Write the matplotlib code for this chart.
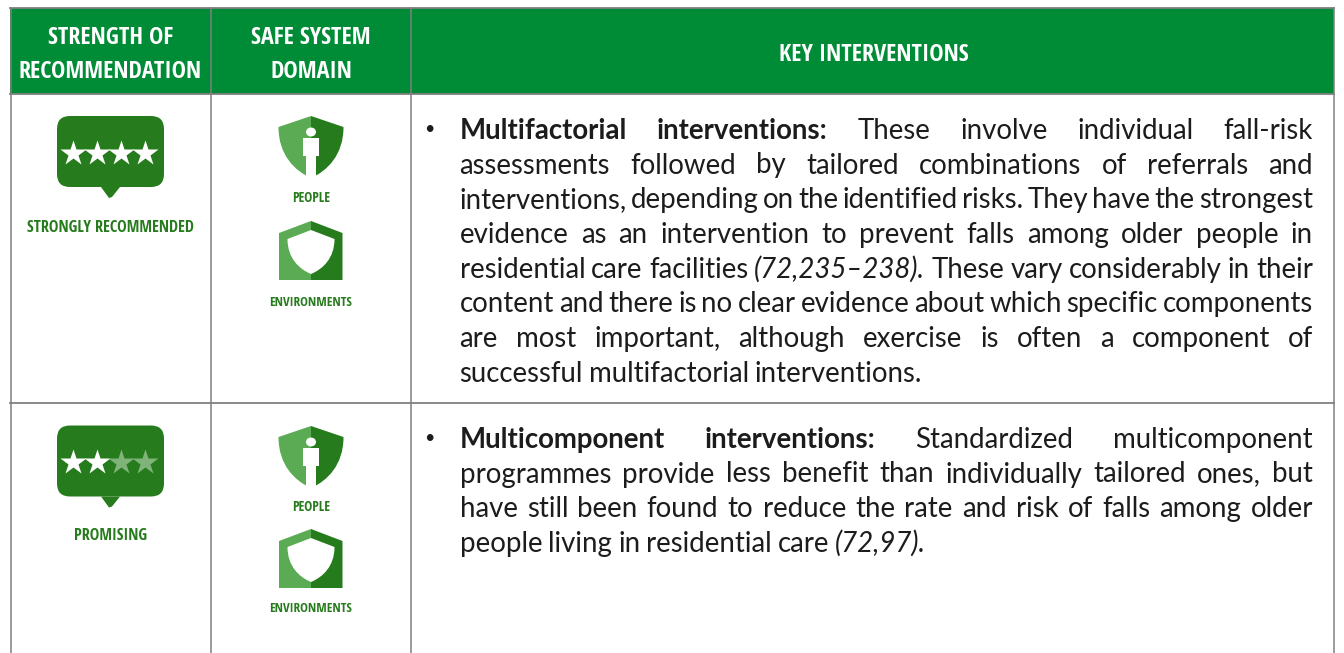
import matplotlib
matplotlib.use('Agg')
from matplotlib import pyplot as plt
from matplotlib.path import Path
from matplotlib.patches import Polygon, Rectangle, Ellipse, FancyBboxPatch, PathPatch

GREEN = '#008c36'
DARK = '#267b1c'
LIGHT = '#5aab54'
GRID = '#808080'
HEAD_FONT = ['Open Sans Condensed', 'Roboto Condensed']
BODY_FONT = ['Lato', 'DejaVu Sans']

headers = [('STRENGTH OF\nRECOMMENDATION', 110.5), ('SAFE SYSTEM\nDOMAIN', 311), ('KEY INTERVENTIONS', 873.5)]
ratings = [('STRONGLY RECOMMENDED', 4), ('PROMISING', 2)]
domains = ['PEOPLE', 'ENVIRONMENTS']

body_1 = [
    [('b', 'Multifactorial interventions:'), ('r', 'These involve individual fall-risk')],
    [('r', 'assessments followed by tailored combinations of referrals and')],
    [('r', 'interventions, depending on the identified risks. They have the strongest')],
    [('r', 'evidence as an intervention to prevent falls among older people in')],
    [('r', 'residential care facilities'), ('i', '(72,235–238).'), ('r', 'These vary considerably in their')],
    [('r', 'content and there is no clear evidence about which specific components')],
    [('r', 'are most important, although exercise is often a component of')],
    [('r', 'successful multifactorial interventions.')],
]
body_2 = [
    [('b', 'Multicomponent interventions:'), ('r', 'Standardized multicomponent')],
    [('r', 'programmes provide less benefit than individually tailored ones, but')],
    [('r', 'have still been found to reduce the rate and risk of falls among older')],
    [('r', 'people living in residential care'), ('i', '(72,97).')],
]

fig = plt.figure(figsize=(13.44, 6.53), dpi=100)
ax = fig.add_axes([0, 0, 1, 1])
ax.set_xlim(0, 1344)
ax.set_ylim(653, 0)
ax.axis('off')

# table frame
ax.add_patch(Rectangle((10, 8), 1324, 86, fc=GREEN, ec='none'))
for x in [10.5, 211, 411, 1334]:
    ax.plot([x, x], [8, 653], color=GRID, lw=1.1)
for y in [8, 94, 403]:
    ax.plot([10, 1334], [y, y], color=GRID, lw=1.3)

for label, x in headers:
    ax.text(x, 55, label, color='white', ha='center', va='center', family=HEAD_FONT,
            weight='bold', fontsize=17.4, linespacing=1.5)


def bubble(y0, n_on):
    ax.add_patch(FancyBboxPatch((57 + 13, y0 + 13), 107 - 26, 71 - 26,
                                boxstyle='round,pad=13,rounding_size=13', fc=DARK, ec='none'))
    ax.add_patch(Polygon([(101, y0 + 71), (120, y0 + 71), (112, y0 + 81), (109, y0 + 82)], fc=DARK, ec='none'))
    for i in range(4):
        col = 'white' if i < n_on else '#7fb37a'
        ax.plot(73 + 24 * i, y0 + 36.5, marker='*', ms=19, mfc=col, mec='none', ls='none')


def shield_half(x0, top, sh, bot, half, side, color):
    # one half of a shield, side is -1 or 1
    edge = x0 + side * half
    verts = [(x0, top), (edge, sh), (edge, sh + (bot - sh) * 0.55),
             (x0 + side * half * 0.5, bot - (bot - sh) * 0.14), (x0, bot), (x0, top)]
    codes = [Path.MOVETO, Path.LINETO, Path.CURVE4, Path.CURVE4, Path.CURVE4, Path.CLOSEPOLY]
    ax.add_patch(PathPatch(Path(verts, codes), fc=color, ec='none'))


def people(y0):
    shield_half(311, y0, y0 + 11, y0 + 62, 32.5, -1, LIGHT)
    shield_half(311, y0, y0 + 11, y0 + 62, 32.5, 1, DARK)
    ax.add_patch(Ellipse((311, y0 + 16), 10, 9, fc='white', ec='none'))
    ax.add_patch(Rectangle((303, y0 + 22), 16, 18, fc='white', ec='none'))
    ax.add_patch(Rectangle((306, y0 + 39), 10, 23, fc='white', ec='none'))


def environments(y0):
    ax.add_patch(Polygon([(311, y0), (279, y0 + 12), (279, y0 + 59), (311, y0 + 59)], fc=LIGHT, ec='none'))
    ax.add_patch(Polygon([(311, y0), (342.5, y0 + 12), (342.5, y0 + 59), (311, y0 + 59)], fc=DARK, ec='none'))
    for side in (-1, 1):
        shield_half(311, y0 + 9, y0 + 18, y0 + 53, 23.5, side, 'white')


for (label, n_on), y_bubble, y_label in zip(ratings, [116, 425.5], [228, 536]):
    bubble(y_bubble, n_on)
    ax.text(110.5, y_label, label, color=DARK, ha='center', va='center', family=HEAD_FONT, weight='bold', fontsize=11.7)

for y_p, y_pl, y_e, y_el in [(116, 198, 221, 302), (426, 507, 529, 609)]:
    people(y_p)
    ax.text(311, y_pl, domains[0], color=DARK, ha='center', va='center', family=HEAD_FONT, weight='bold', fontsize=9.8)
    environments(y_e)
    ax.text(311, y_el, domains[1], color=DARK, ha='center', va='center', family=HEAD_FONT, weight='bold', fontsize=9.5)

renderer = fig.canvas.get_renderer()
STYLES = {'r': dict(weight=400), 'b': dict(weight=700), 'i': dict(weight=400, style='italic')}
BODY_SIZE = 19.9
LEFT, RIGHT = 459.5, 1313


def draw_word(word, x, y, kind):
    return ax.text(x, y, word, ha='left', va='baseline', family=BODY_FONT, fontsize=BODY_SIZE,
                   color='#1c1c1c', **STYLES[kind])


def paragraph(lines, y0):
    for n, line in enumerate(lines):
        y = y0 + n * 34.7
        words = [(w, k) for k, s in line for w in s.split(' ')]
        arts = [draw_word(w, 0, y, k) for w, k in words]
        widths = [a.get_window_extent(renderer).width for a in arts]
        if n < len(lines) - 1:
            gap = (RIGHT - LEFT - sum(widths)) / (len(words) - 1)
        else:
            gap = 6.0
        x = LEFT
        for a, w in zip(arts, widths):
            a.set_x(x)
            x += w + gap


ax.text(424, 134, '•', family=BODY_FONT, fontsize=13, color='#1c1c1c', ha='left', va='baseline')
paragraph(body_1, 138.8)
ax.text(424, 443, '•', family=BODY_FONT, fontsize=13, color='#1c1c1c', ha='left', va='baseline')
paragraph(body_2, 447.8)

plt.savefig('out.png', dpi=100)
